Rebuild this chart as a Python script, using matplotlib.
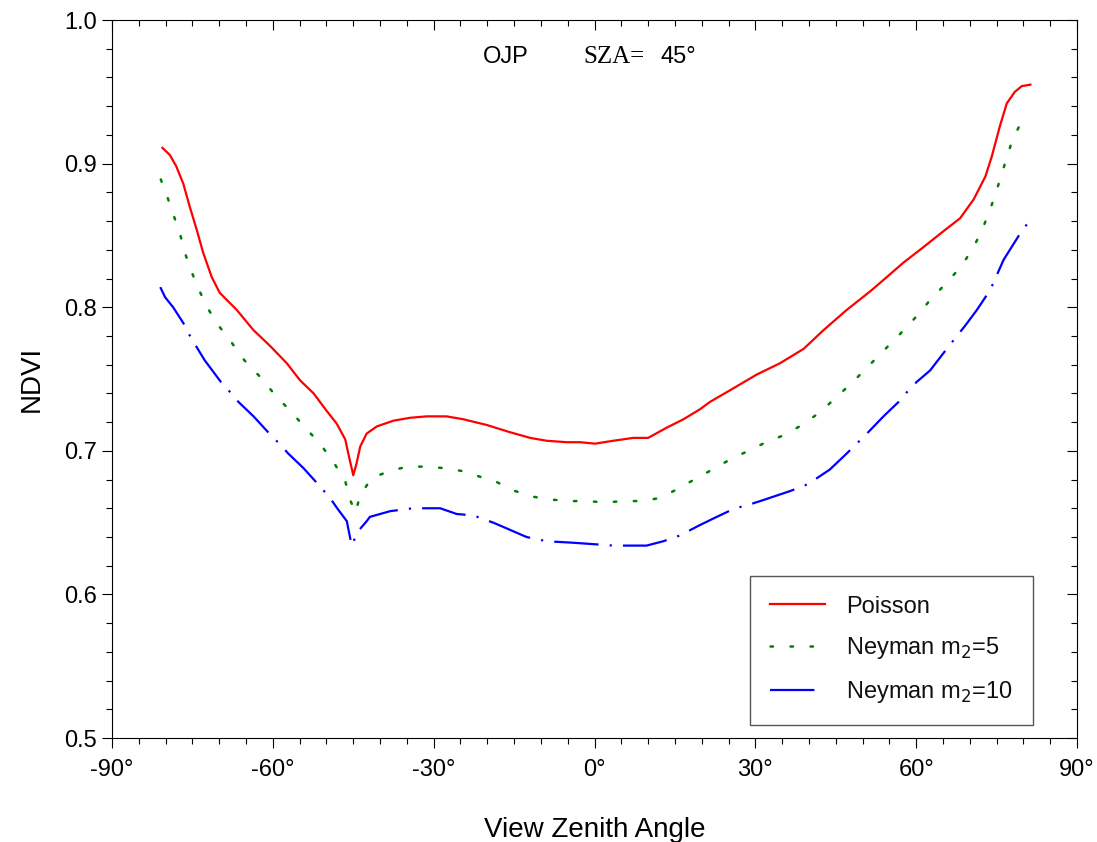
import numpy as np
import matplotlib
matplotlib.use("Agg")
import matplotlib.pyplot as plt
from matplotlib.ticker import MultipleLocator, FuncFormatter

plt.rcParams['font.family'] = ['Liberation Sans', 'DejaVu Sans']
plt.rcParams['axes.unicode_minus'] = False

# Poisson
vza_poisson = [-80.6, -79.2, -78.0, -76.7, -75.5, -74.2, -73.0, -71.4, -69.9, -66.7,
               -63.6, -60.5, -57.4, -54.9, -52.4, -50.0, -48.1, -46.5, -45.8, -45.0,
               -44.4, -43.7, -42.5, -40.6, -37.5, -34.4, -31.3, -27.6, -24.5, -20.1,
               -15.8, -12.0, -8.9, -5.2, -2.7, 0.1, 3.5, 7.2, 10.0, 13.4,
               16.6, 19.7, 21.5, 25.2, 30.2, 34.6, 39.0, 42.7, 47.0, 51.4,
               53.9, 57.6, 61.4, 65.1, 68.2, 70.7, 72.9, 74.1, 75.6, 76.9,
               78.4, 79.7, 81.3]
ndvi_poisson = [0.911, 0.906, 0.898, 0.886, 0.870, 0.854, 0.838, 0.821, 0.810, 0.798,
                0.784, 0.773, 0.761, 0.749, 0.740, 0.728, 0.719, 0.708, 0.696, 0.683,
                0.691, 0.703, 0.712, 0.717, 0.721, 0.723, 0.724, 0.724, 0.722, 0.718,
                0.713, 0.709, 0.707, 0.706, 0.706, 0.705, 0.707, 0.709, 0.709, 0.716,
                0.722, 0.729, 0.734, 0.742, 0.753, 0.761, 0.771, 0.784, 0.798, 0.811,
                0.819, 0.831, 0.842, 0.853, 0.862, 0.875, 0.891, 0.905, 0.926, 0.942,
                0.950, 0.954, 0.955]

# Neyman m2=5
vza_n5 = [-80.9, -79.6, -78.5, -77.3, -76.5, -75.3, -74.0, -72.4, -70.5, -68.0,
          -65.3, -62.5, -59.6, -56.8, -53.9, -51.0, -48.5, -46.5, -45.6, -44.6,
          -43.7, -41.6, -38.2, -34.9, -31.6, -28.2, -24.8, -21.4, -18.1, -14.8,
          -11.4, -8.0, -4.6, -1.3, 1.9, 5.4, 8.7, 12.0, 15.3, 18.6,
          22.0, 25.3, 28.7, 32.0, 35.4, 38.7, 42.1, 45.0, 48.2, 51.1,
          54.0, 56.9, 59.9, 62.6, 65.4, 68.3, 70.6, 72.3, 73.6, 74.8,
          75.8, 76.8, 77.9, 79.6]
ndvi_n5 = [0.889, 0.876, 0.864, 0.851, 0.839, 0.826, 0.814, 0.801, 0.789, 0.777,
           0.763, 0.752, 0.739, 0.728, 0.716, 0.704, 0.691, 0.679, 0.666, 0.657,
           0.669, 0.681, 0.686, 0.689, 0.689, 0.688, 0.686, 0.682, 0.678, 0.672,
           0.668, 0.666, 0.665, 0.665, 0.664, 0.665, 0.665, 0.667, 0.673, 0.680,
           0.687, 0.694, 0.700, 0.706, 0.711, 0.718, 0.727, 0.737, 0.748, 0.759,
           0.770, 0.781, 0.793, 0.805, 0.816, 0.828, 0.841, 0.854, 0.866, 0.879,
           0.891, 0.903, 0.916, 0.929]

# Neyman m2=10
vza_n10 = [-81.0, -80.1, -78.6, -76.7, -75.6, -74.5, -72.7, -69.7, -68.0, -66.4,
           -63.6, -60.4, -58.8, -57.1, -54.3, -50.9, -49.3, -48.0, -46.2, -45.3,
           -44.1, -42.5, -41.9, -38.1, -33.8, -28.8, -25.7, -22.6, -18.9, -16.4,
           -12.7, -8.9, -4.0, -0.2, 3.5, 7.2, 9.7, 12.8, 15.9, 19.5,
           22.8, 26.2, 28.4, 30.9, 36.5, 39.3, 41.1, 43.9, 47.0, 48.9,
           50.8, 53.9, 56.7, 58.3, 60.1, 62.6, 65.7, 67.6, 69.1, 71.3,
           73.8, 76.3, 79.5, 80.9]
ndvi_n10 = [0.814, 0.807, 0.800, 0.789, 0.781, 0.774, 0.763, 0.748, 0.741, 0.734,
            0.724, 0.711, 0.705, 0.698, 0.688, 0.674, 0.667, 0.660, 0.651, 0.634,
            0.644, 0.651, 0.654, 0.658, 0.660, 0.660, 0.656, 0.655, 0.650, 0.646,
            0.640, 0.637, 0.636, 0.635, 0.634, 0.634, 0.634, 0.637, 0.641, 0.648,
            0.654, 0.660, 0.662, 0.665, 0.672, 0.676, 0.680, 0.687, 0.698, 0.705,
            0.712, 0.724, 0.734, 0.741, 0.748, 0.756, 0.771, 0.780, 0.787, 0.798,
            0.812, 0.833, 0.852, 0.859]

fig = plt.figure(figsize=(10.97, 8.42), dpi=100)
ax = fig.add_axes([0.1021, 0.1235, 0.8797, 0.8527])

ax.plot(vza_poisson, ndvi_poisson, color='#ff0000', lw=1.6, label='Poisson')
ax.plot(vza_n5, ndvi_n5, color='#008000', lw=1.8, linestyle=(0, (1, 7)),
        dash_capstyle='round', label='Neyman m$_2$=5')
ax.plot(vza_n10, ndvi_n10, color='#0000ff', lw=1.6, linestyle=(0, (20, 5, 1, 5)),
        label='Neyman m$_2$=10')

ax.set_xlim(-90, 90)
ax.set_ylim(0.5, 1.0)
ax.xaxis.set_major_locator(MultipleLocator(30))
ax.xaxis.set_minor_locator(MultipleLocator(5))
ax.yaxis.set_major_locator(MultipleLocator(0.1))
ax.yaxis.set_minor_locator(MultipleLocator(0.02))
ax.xaxis.set_major_formatter(FuncFormatter(lambda v, p: f"{v:.0f}\u00b0"))
ax.yaxis.set_major_formatter(FuncFormatter(lambda v, p: f"{v:.1f}"))

ax.tick_params(which='both', top=True, right=True, labelsize=17, width=0.8)
ax.tick_params(axis='x', which='both', direction='out', pad=8)
ax.tick_params(axis='y', which='both', direction='out', pad=4)
ax.tick_params(which='major', length=7)
ax.tick_params(which='minor', length=4)
for sp in ax.spines.values():
    sp.set_linewidth(0.8)

# top/right ticks point inward
for t in ax.xaxis.get_major_ticks() + ax.xaxis.get_minor_ticks():
    t.tick2line.set_marker(3)
for t in ax.yaxis.get_major_ticks() + ax.yaxis.get_minor_ticks():
    t.tick2line.set_marker(0)

ax.set_xlabel('View Zenith Angle', fontsize=20, labelpad=26)
ax.set_ylabel('NDVI', fontsize=20, labelpad=14)

ax.text(0.384, 0.949, 'OJP', transform=ax.transAxes, fontsize=17, va='center')
ax.text(0.488, 0.949, 'SZA=', transform=ax.transAxes, fontsize=18, va='center',
        family='Liberation Serif')
ax.text(0.568, 0.949, '45\u00b0', transform=ax.transAxes, fontsize=17, va='center')

leg = ax.legend(loc='lower right', bbox_to_anchor=(0.954, 0.018), fontsize=17,
                frameon=True, fancybox=False, edgecolor='#555555', framealpha=1,
                handlelength=2.3, borderpad=0.85, labelspacing=0.75, handletextpad=0.9,
                borderaxespad=0)
leg.get_frame().set_linewidth(1.0)
for t in leg.get_texts():
    t.set_color('#111111')

fig.savefig('out.png', dpi=100)
